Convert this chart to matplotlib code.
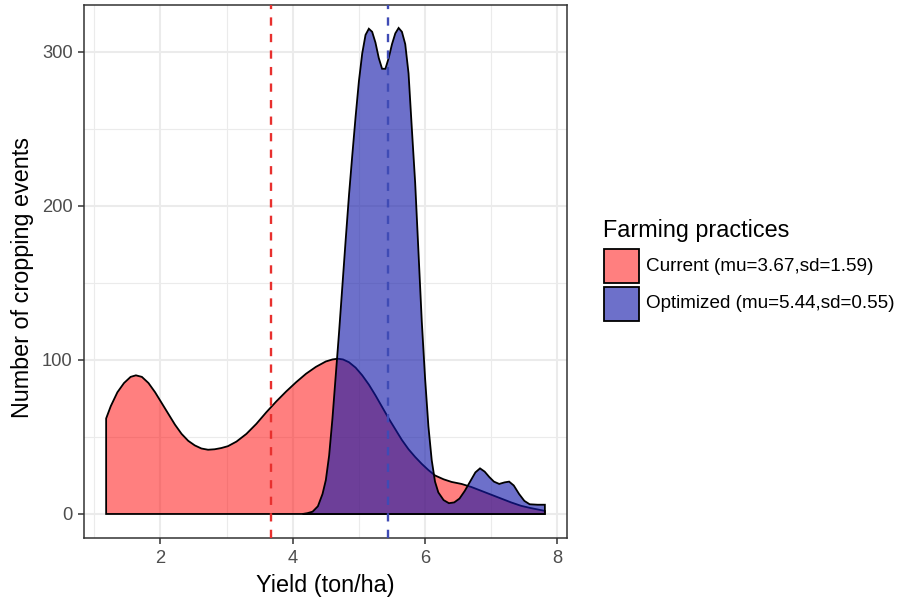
import matplotlib
matplotlib.use("Agg")
import matplotlib.pyplot as plt
from matplotlib.patches import Rectangle

plt.rcParams["font.family"] = ["Liberation Sans", "DejaVu Sans"]

# density curves (yield in ton/ha, count of events)
current_x = [1.18, 1.25, 1.35, 1.45, 1.55, 1.63, 1.72, 1.82, 1.92, 2.02,
             2.12, 2.22, 2.32, 2.42, 2.52, 2.62, 2.72, 2.82, 2.92, 3.02,
             3.15, 3.3, 3.45, 3.6, 3.75, 3.9, 4.05, 4.2, 4.35, 4.5,
             4.6, 4.68, 4.76, 4.85, 4.95, 5.05, 5.15, 5.25, 5.35, 5.45,
             5.55, 5.65, 5.75, 5.85, 5.95, 6.05, 6.15, 6.28, 6.4, 6.55,
             6.7, 6.85, 7.0, 7.15, 7.3, 7.45, 7.6, 7.81]
current_y = [62, 70, 79, 85, 89, 90, 89, 85, 79, 72,
             65, 58, 52, 47.5, 44.5, 42.5, 41.7, 42, 42.8, 44,
             47, 52, 58.5, 66, 73, 79.5, 85.5, 91, 95.5, 99,
             100.3, 100.8, 100.3, 98.5, 95, 90, 84, 77, 69.5, 62,
             55, 48, 42, 37, 32.5, 28.5, 25, 22.5, 20.8, 19.5,
             17.5, 15, 12.5, 10, 7.5, 5.3, 3.8, 2]

optimized_x = [4.15, 4.22, 4.3, 4.38, 4.45, 4.5, 4.55, 4.6, 4.65, 4.7,
               4.75, 4.8, 4.85, 4.9, 4.95, 5.0, 5.05, 5.1, 5.15, 5.2,
               5.25, 5.3, 5.35, 5.4, 5.45, 5.5, 5.55, 5.6, 5.65, 5.7,
               5.75, 5.8, 5.85, 5.9, 5.95, 6.0, 6.05, 6.1, 6.15, 6.2,
               6.28, 6.36, 6.44, 6.52, 6.6, 6.68, 6.76, 6.83, 6.9, 6.97,
               7.04, 7.12, 7.2, 7.27, 7.34, 7.42, 7.5, 7.58, 7.7, 7.81]
optimized_y = [0, 0.5, 1.5, 5, 13, 22, 38, 62, 90, 118,
               148, 178, 207, 233, 258, 281, 299, 311, 315, 313,
               306, 296, 289, 289, 296, 305, 312, 315.5, 313, 305,
               286, 250, 215, 170, 125, 88, 57, 35, 21, 14,
               9, 7, 7.5, 10, 15, 21, 27, 29.6, 27.5, 24,
               21, 19.5, 20.5, 21, 18.5, 13, 8.5, 6.3, 6, 6]

current_mu, current_sd = 3.67, 1.59
optimized_mu, optimized_sd = 5.44, 0.55

W, H = 903, 601
fig = plt.figure(figsize=(W / 100, H / 100), dpi=100)
ax = fig.add_axes([84.3 / W, (H - 538) / H, (566.7 - 84.3) / W, (538 - 4.7) / H])

red_fill = (1.0, 0.0, 0.0, 0.5)
blue_fill = (20 / 255, 25 / 255, 170 / 255, 0.62)

# polygons closed down to the baseline, like geom_density
def closed(xs, ys):
    return [xs[0]] + list(xs) + [xs[-1]], [0] + list(ys) + [0]

cx, cy = closed(current_x, current_y)
ox, oy = closed(optimized_x, optimized_y)
ax.fill(cx, cy, facecolor=red_fill, edgecolor="black", lw=1.3, zorder=2)
ax.fill(ox, oy, facecolor=blue_fill, edgecolor="black", lw=1.3, zorder=3)

ax.axvline(current_mu, color="#E8302E", lw=1.7, dashes=(3.5, 3.5), zorder=4)
ax.axvline(optimized_mu, color="#3F4BB5", lw=1.7, dashes=(3.5, 3.5), zorder=4)

ax.set_xlim(0.85, 8.14)
ax.set_ylim(-15.6, 330.6)
ax.set_xticks([2, 4, 6, 8])
ax.set_xticks([1, 3, 5, 7], minor=True)
ax.set_yticks([0, 100, 200, 300])
ax.set_yticks([50, 150, 250], minor=True)

ax.grid(which="major", color="#EBEBEB", lw=1.5, zorder=0)
ax.grid(which="minor", color="#EBEBEB", lw=0.8, zorder=0)
ax.set_axisbelow(True)

for s in ax.spines.values():
    s.set_color("#333333")
    s.set_linewidth(1.1)
ax.tick_params(which="major", length=4, width=1.1, color="#333333",
               labelcolor="#4D4D4D", labelsize=13.2, pad=4.5)
ax.tick_params(which="minor", length=0)

fig.text(325.5 / W, 1 - 592 / H, "Yield (ton/ha)", ha="center", va="baseline",
         size=16.8, color="black")
fig.text(23 / W, 1 - 277 / H, "Number of cropping events", ha="center",
         va="center", rotation=90, size=16.8, color="black")

# legend
fig.text(603 / W, 1 - 236.5 / H, "Farming practices", ha="left", va="baseline",
         size=16.8)
labels = [f"Current (mu={current_mu},sd={current_sd})",
          f"Optimized (mu={optimized_mu},sd={optimized_sd})"]
fills = [red_fill, blue_fill]
tops = [249, 287]
for lab, fc, top in zip(labels, fills, tops):
    fig.add_artist(Rectangle((604 / W, 1 - (top + 34) / H), 35 / W, 34 / H,
                             transform=fig.transFigure, facecolor=fc,
                             edgecolor="black", lw=1.3))
    fig.text(646 / W, 1 - (top + 17) / H, lab, ha="left", va="center",
             size=13.6)

fig.savefig("out.png", dpi=100)
